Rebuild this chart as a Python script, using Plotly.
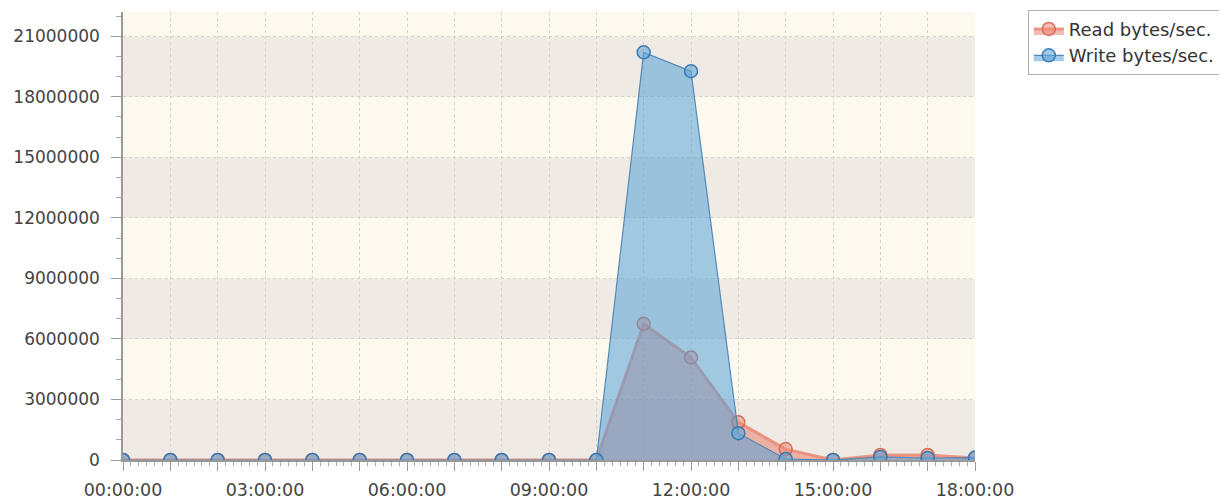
import plotly.graph_objects as go

hours = list(range(19))
hour_labels = ["00:00:00", "03:00:00", "06:00:00", "09:00:00", "12:00:00", "15:00:00", "18:00:00"]
read_bytes = [0, 0, 0, 0, 0, 0, 0, 0, 0, 0, 0,
              6750000, 5080000, 1870000, 540000, 0, 250000, 250000, 100000]
write_bytes = [0, 0, 0, 0, 0, 0, 0, 0, 0, 0, 0,
               20200000, 19270000, 1330000, 50000, 0, 150000, 100000, 120000]

fig = go.Figure()

fig.add_trace(go.Scatter(
    x=hours, y=read_bytes, name="Read bytes/sec.", mode="lines+markers",
    fill="tozeroy", fillcolor="rgba(230,120,100,0.5)",
    line=dict(color="rgba(236,140,120,0.9)", width=3),
    marker=dict(size=13, color="rgba(235,140,120,0.55)",
                line=dict(color="rgba(215,100,80,0.9)", width=1.5)),
))
fig.add_trace(go.Scatter(
    x=hours, y=write_bytes, name="Write bytes/sec.", mode="lines+markers",
    fill="tozeroy", fillcolor="rgba(85,160,215,0.55)",
    line=dict(color="rgba(70,130,180,0.9)", width=1.2),
    marker=dict(size=13, color="rgba(100,165,215,0.6)",
                line=dict(color="rgba(50,120,180,0.95)", width=1.5)),
))

# alternating background bands
band_edges = [0, 3e6, 6e6, 9e6, 12e6, 15e6, 18e6, 21e6, 22.2e6]
for i in range(len(band_edges) - 1):
    fig.add_shape(type="rect", xref="paper", yref="y", x0=0, x1=1,
                  y0=band_edges[i], y1=band_edges[i + 1], layer="below", line_width=0,
                  fillcolor="#efebe4" if i % 2 == 0 else "#fdf9ee")

fig.update_layout(
    width=1227, height=502,
    margin=dict(l=115, r=260, t=2, b=50),
    paper_bgcolor="white", plot_bgcolor="#fdf9ee",
    font=dict(family="DejaVu Sans", size=17, color="#444"),
    showlegend=True,
    legend=dict(x=1.062, y=1.005, xanchor="left", yanchor="top",
                bgcolor="white", bordercolor="#b0b0b0", borderwidth=1,
                font=dict(size=18, color="#333"), tracegroupgap=0),
)

fig.update_xaxes(
    range=[0, 18], tickmode="array", tickvals=hours,
    ticktext=[hour_labels[h // 3] if h % 3 == 0 else "" for h in hours],
    tickfont=dict(size=17.5), ticklabelstandoff=4,
    ticks="outside", ticklen=9, tickcolor="#999",
    showgrid=True, gridcolor="#d6d2ca", griddash="dot", gridwidth=1,
    showline=True, linecolor="#999", linewidth=1.5, zeroline=False,
    minor=dict(dtick=1 / 6, ticks="outside", ticklen=4, tickcolor="#aaa", showgrid=False),
)
fig.update_yaxes(
    range=[0, 22.2e6], tick0=0, dtick=3e6, tickformat="d",
    ticklabelstandoff=8,
    ticks="outside", ticklen=10, tickcolor="#999",
    showgrid=True, gridcolor="#d6d2ca", griddash="dot", gridwidth=1,
    showline=True, linecolor="#999", linewidth=1.5, zeroline=False,
    minor=dict(dtick=1e6, ticks="outside", ticklen=5, tickcolor="#aaa", showgrid=False),
)

fig.write_html("out.html")
